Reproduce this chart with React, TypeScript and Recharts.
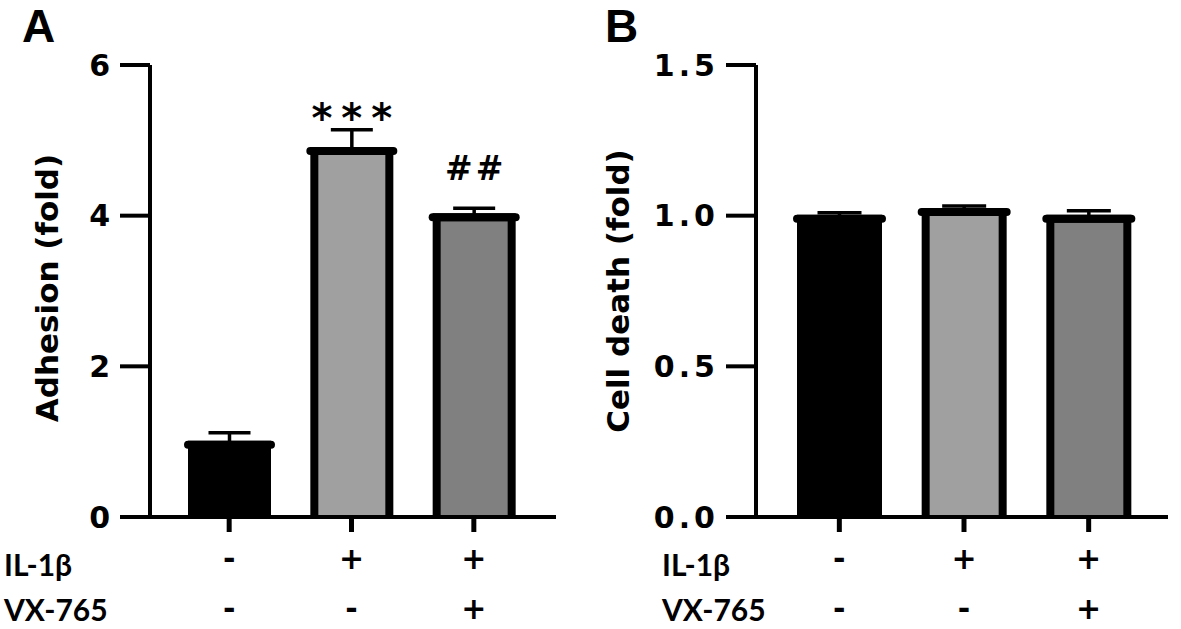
import { Bar, BarChart, ErrorBar, LabelList, XAxis, YAxis } from 'recharts'

const groups = ['control', 'il1b', 'il1bVx']
const il1bSigns = ['-', '+', '+']
const vxSigns = ['-', '-', '+']

const adhesion = [0.96, 4.86, 3.98]
const adhesionErr = [0.16, 0.28, 0.12]
const adhesionMarks = ['', '***', '##']
const adhesionTicks = [0, 2, 4, 6]

const cellDeath = [0.99, 1.012, 0.99]
const cellDeathErr = [0.02, 0.02, 0.026]
const cellDeathTicks = [0, 0.5, 1.0, 1.5]

const barFills = ['#000000', '#a0a0a0', '#808080']

const adhesionData = groups.map((g, i) => ({
  group: g,
  value: adhesion[i],
  err: [0, adhesionErr[i]],
  mark: adhesionMarks[i],
}))

const cellDeathData = groups.map((g, i) => ({
  group: g,
  value: cellDeath[i],
  err: [0, cellDeathErr[i]],
  mark: '',
}))

const FONT = '"DejaVu Sans", Verdana, sans-serif'
const ROW_FONT = 'Lato, "DejaVu Sans", sans-serif'

function OutlinedBar(props: any) {
  const { x, y, width, height, index } = props
  const sw = 8
  return (
    <g>
      <rect x={x} y={y} width={width} height={height} fill={barFills[index]} />
      <path
        d={`M${x},${y + height} V${y} H${x + width} V${y + height}`}
        fill="none"
        stroke="#000"
        strokeWidth={sw}
      />
      <line
        x1={x - 4}
        x2={x + width + 4}
        y1={y}
        y2={y}
        stroke="#000"
        strokeWidth={sw}
        strokeLinecap="round"
      />
    </g>
  )
}

function SigMark(props: any) {
  const { x, y, width, value } = props
  if (!value) return null
  const star = String(value).includes('*')
  const spacing = star ? 9 : 3
  return (
    <text
      x={x + width / 2 + spacing / 2}
      y={y - (star ? 19 : 37)}
      textAnchor="middle"
      fontFamily={FONT}
      fontWeight="bold"
      fontSize={star ? 40 : 33}
      letterSpacing={spacing}
      fill="#000"
    >
      {value}
    </text>
  )
}

function SignTick(props: any) {
  const { x, payload } = props
  const i = groups.indexOf(payload.value)
  const common = {
    x,
    textAnchor: 'middle' as const,
    fontFamily: FONT,
    fontWeight: 'bold',
    fontSize: 30,
    fill: '#000',
  }
  return (
    <g>
      <text {...common} y={569}>
        {il1bSigns[i]}
      </text>
      <text {...common} y={619}>
        {vxSigns[i]}
      </text>
    </g>
  )
}

const yTickA = { fontFamily: FONT, fontWeight: 'bold', fontSize: 30, fill: '#000' }
const yTickB = { ...yTickA, letterSpacing: 4 }

export default function App() {
  return (
    <div style={{ position: 'absolute', left: 0, top: 0, width: 1181, height: 629, background: '#fff' }}>
      <div style={{ position: 'absolute', left: 0, top: 0 }}>
        <BarChart
          width={580}
          height={629}
          data={adhesionData}
          margin={{ top: 65, right: 24, bottom: 0, left: 0 }}
        >
          <XAxis
            dataKey="group"
            height={112}
            padding={{ left: 18, right: 21 }}
            axisLine={{ stroke: '#000', strokeWidth: 4 }}
            tickLine={{ stroke: '#000', strokeWidth: 5 }}
            tickSize={15}
            tick={<SignTick />}
            interval={0}
          />
          <YAxis
            width={150}
            domain={[0, 6]}
            ticks={adhesionTicks}
            axisLine={{ stroke: '#000', strokeWidth: 4 }}
            tickLine={{ stroke: '#000', strokeWidth: 4 }}
            tickSize={30}
            tickMargin={10}
            tick={yTickA}
          />
          <Bar dataKey="value" barSize={75} shape={<OutlinedBar />} isAnimationActive={false}>
            <ErrorBar dataKey="err" width={21} stroke="#000" strokeWidth={3.5} direction="y" />
            <LabelList dataKey="mark" content={<SigMark />} />
          </Bar>
        </BarChart>
      </div>
      <div style={{ position: 'absolute', left: 600, top: 0 }}>
        <BarChart
          width={581}
          height={629}
          data={cellDeathData}
          margin={{ top: 65, right: 13, bottom: 0, left: 0 }}
        >
          <XAxis
            dataKey="group"
            height={112}
            padding={{ left: 21, right: 17 }}
            axisLine={{ stroke: '#000', strokeWidth: 4 }}
            tickLine={{ stroke: '#000', strokeWidth: 5 }}
            tickSize={15}
            tick={<SignTick />}
            interval={0}
          />
          <YAxis
            width={156}
            domain={[0, 1.5]}
            ticks={cellDeathTicks}
            tickFormatter={(v: number) => v.toFixed(1)}
            axisLine={{ stroke: '#000', strokeWidth: 4 }}
            tickLine={{ stroke: '#000', strokeWidth: 4 }}
            tickSize={30}
            tickMargin={7}
            tick={yTickB}
          />
          <Bar dataKey="value" barSize={77} shape={<OutlinedBar />} isAnimationActive={false}>
            <ErrorBar dataKey="err" width={22} stroke="#000" strokeWidth={3.5} direction="y" />
          </Bar>
        </BarChart>
      </div>
      <svg
        width={1181}
        height={629}
        style={{ position: 'absolute', left: 0, top: 0, pointerEvents: 'none' }}
      >
        <g fontFamily={'"Liberation Sans", Arial, sans-serif'} fontWeight="bold" fontSize={46} fill="#000">
          <text x={22} y={42}>A</text>
          <text x={605} y={42}>B</text>
        </g>
        <g fontFamily={FONT} fontWeight="bold" fontSize={31} fill="#000" textAnchor="middle">
          <text x={58} y={288} transform="rotate(-90 58 288)">Adhesion (fold)</text>
          <text x={629} y={291} transform="rotate(-90 629 291)">Cell death (fold)</text>
        </g>
        <g fontFamily={ROW_FONT} fontWeight="bold" fontSize={30} fill="#000">
          <text x={4} y={576}>IL-1β</text>
          <text x={4} y={621}>VX-765</text>
          <text x={662} y={576}>IL-1β</text>
          <text x={662} y={621}>VX-765</text>
        </g>
      </svg>
    </div>
  )
}
